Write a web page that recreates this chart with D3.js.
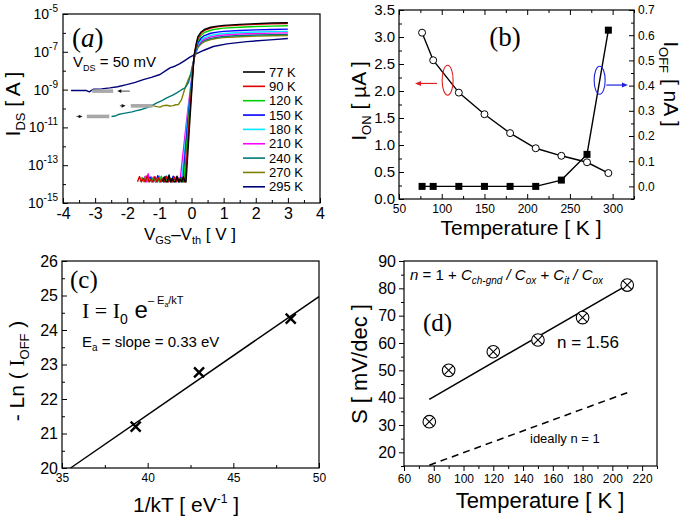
<!DOCTYPE html>
<html>
<head>
<meta charset="utf-8">
<script src="https://cdn.jsdelivr.net/npm/d3@7/dist/d3.min.js"></script>
<style>
html,body{margin:0;padding:0;background:#fff;}
svg{display:block;}
</style>
</head>
<body>
<svg id="chart" width="685" height="522"></svg>
<script>
// ================= DATA =================
// Panel (a): transfer curves, pairs of [V_GS - V_th (V), log10(I_DS / A)]
const vgsTicks = [-4,-3,-2,-1,0,1,2,3,4];
const vgsMinor = [-3.5,-2.5,-1.5,-0.5,0.5,1.5,2.5,3.5];
const idsTickExps = [-15,-13,-11,-9,-7,-5];
const idsMinorExps = [-14,-12,-10,-8,-6];
const tempLabelsA = ["77 K","90 K","120 K","150 K","180 K","210 K","240 K","270 K","295 K"];
const colorsA = ["#000000","#e00000","#00d000","#0000ff","#00e8ff","#ff00ff","#007878","#808000","#00007a"];

const ids77K = [[-0.9,-13.88],[-0.85,-13.62],[-0.8,-13.88],[-0.75,-13.86],[-0.7,-13.52],[-0.65,-13.88],[-0.6,-13.7],[-0.55,-13.88],[-0.5,-13.87],[-0.45,-13.58],[-0.4,-13.88],[-0.35,-13.74],[-0.3,-13.88],[-0.25,-13.62],[-0.2,-13.88],[-0.17,-13.88],[-0.05,-10.6],[0.08,-7.2],[0.15,-6.55],[0.2,-6.2],[0.3,-5.95],[0.4,-5.82],[0.6,-5.7],[0.8,-5.64],[1.0,-5.6],[1.5,-5.55],[2.0,-5.51],[2.5,-5.48],[3.0,-5.46]];
const ids90K = [[-1.68,-13.88],[-1.62,-13.6],[-1.56,-13.88],[-1.5,-13.7],[-1.44,-13.88],[-1.38,-13.55],[-1.32,-13.88],[-1.26,-13.75],[-1.2,-13.88],[-1.14,-13.6],[-1.08,-13.88],[-1.02,-13.66],[-0.96,-13.88],[-0.9,-13.72],[-0.84,-13.88],[-0.78,-13.6],[-0.72,-13.88],[-0.66,-13.7],[-0.6,-13.88],[-0.54,-13.62],[-0.48,-13.88],[-0.42,-13.7],[-0.36,-13.88],[-0.3,-13.65],[-0.24,-13.88],[-0.2,-13.88],[-0.07,-10.6],[0.08,-7.22],[0.15,-6.6],[0.2,-6.27],[0.3,-6.0],[0.4,-5.87],[0.6,-5.75],[0.8,-5.68],[1.0,-5.64],[1.5,-5.59],[2.0,-5.55],[2.5,-5.52],[3.0,-5.5]];
const ids120K = [[-1.6,-13.88],[-1.54,-13.65],[-1.48,-13.88],[-1.42,-13.58],[-1.36,-13.88],[-1.3,-13.72],[-1.24,-13.88],[-1.18,-13.62],[-1.12,-13.88],[-1.06,-13.7],[-1.0,-13.88],[-0.94,-13.58],[-0.88,-13.88],[-0.82,-13.68],[-0.76,-13.88],[-0.7,-13.62],[-0.64,-13.88],[-0.58,-13.74],[-0.52,-13.88],[-0.46,-13.6],[-0.4,-13.88],[-0.34,-13.7],[-0.28,-13.88],[-0.24,-13.88],[-0.09,-10.6],[0.08,-7.25],[0.15,-6.7],[0.2,-6.4],[0.3,-6.12],[0.4,-5.98],[0.6,-5.86],[0.8,-5.79],[1.0,-5.75],[1.5,-5.7],[2.0,-5.66],[2.5,-5.64],[3.0,-5.62]];
const ids150K = [[-1.35,-13.88],[-1.29,-13.62],[-1.23,-13.88],[-1.17,-13.7],[-1.11,-13.88],[-1.05,-13.55],[-0.99,-13.88],[-0.93,-13.68],[-0.87,-13.88],[-0.81,-13.6],[-0.75,-13.88],[-0.69,-13.72],[-0.63,-13.88],[-0.57,-13.58],[-0.51,-13.88],[-0.45,-13.7],[-0.39,-13.88],[-0.33,-13.64],[-0.27,-13.88],[-0.11,-10.6],[0.08,-7.28],[0.15,-6.8],[0.2,-6.52],[0.3,-6.27],[0.4,-6.14],[0.6,-6.02],[0.8,-5.96],[1.0,-5.92],[1.5,-5.87],[2.0,-5.84],[2.5,-5.82],[3.0,-5.8]];
const ids180K = [[-1.2,-13.88],[-1.14,-13.66],[-1.08,-13.88],[-1.02,-13.6],[-0.96,-13.88],[-0.9,-13.72],[-0.84,-13.88],[-0.78,-13.56],[-0.72,-13.88],[-0.66,-13.68],[-0.6,-13.88],[-0.54,-13.62],[-0.48,-13.88],[-0.42,-13.7],[-0.36,-13.88],[-0.31,-13.88],[-0.13,-10.6],[0.08,-7.3],[0.15,-6.85],[0.2,-6.6],[0.3,-6.37],[0.4,-6.25],[0.6,-6.13],[0.8,-6.07],[1.0,-6.03],[1.5,-5.98],[2.0,-5.95],[2.5,-5.93],[3.0,-5.92]];
const ids210K = [[-1.5,-13.88],[-1.45,-13.6],[-1.4,-13.88],[-1.35,-13.45],[-1.3,-13.88],[-1.24,-13.62],[-1.18,-13.88],[-1.12,-13.7],[-1.06,-13.88],[-1.0,-13.58],[-0.94,-13.88],[-0.88,-13.66],[-0.82,-13.88],[-0.76,-13.6],[-0.7,-13.88],[-0.64,-13.72],[-0.58,-13.88],[-0.52,-13.62],[-0.46,-13.88],[-0.4,-13.66],[-0.36,-13.88],[-0.15,-10.6],[0.08,-7.32],[0.15,-6.9],[0.2,-6.66],[0.3,-6.45],[0.4,-6.33],[0.6,-6.21],[0.8,-6.15],[1.0,-6.11],[1.5,-6.06],[2.0,-6.03],[2.5,-6.01],[3.0,-6.0]];
const ids240K = [[-2.49,-10.42],[-2.38,-10.4],[-2.28,-10.32],[-2.15,-10.27],[-2.02,-10.23],[-1.85,-10.18],[-1.71,-10.11],[-1.55,-10.05],[-1.4,-9.96],[-1.25,-9.86],[-1.08,-9.7],[-0.92,-9.58],[-0.77,-9.44],[-0.6,-9.3],[-0.46,-9.17],[-0.32,-9.02],[-0.2,-8.91],[-0.1,-8.65],[-0.03,-8.21],[0.08,-7.34],[0.15,-6.95],[0.2,-6.72],[0.3,-6.52],[0.4,-6.4],[0.6,-6.29],[0.8,-6.23],[1.0,-6.19],[1.5,-6.14],[2.0,-6.11],[2.5,-6.09],[3.0,-6.08]];
const ids270K = [[-1.19,-9.86],[-1.08,-9.9],[-0.98,-9.93],[-0.88,-9.85],[-0.77,-9.83],[-0.67,-9.87],[-0.57,-9.85],[-0.49,-9.8],[-0.41,-9.79],[-0.31,-9.53],[-0.2,-8.91],[-0.1,-8.47],[0.0,-8.1],[0.08,-7.36],[0.15,-7.0],[0.2,-6.78],[0.3,-6.58],[0.4,-6.46],[0.6,-6.35],[0.8,-6.29],[1.0,-6.25],[1.5,-6.2],[2.0,-6.17],[2.5,-6.15],[3.0,-6.14]];
const ids295K = [[-3.75,-9.05],[-3.5,-9.04],[-3.27,-9.05],[-3.18,-9.12],[-3.06,-8.98],[-2.8,-8.96],[-2.54,-8.91],[-2.3,-8.85],[-2.02,-8.74],[-1.75,-8.62],[-1.5,-8.47],[-1.25,-8.35],[-0.98,-8.2],[-0.8,-8.0],[-0.67,-7.85],[-0.5,-7.75],[-0.36,-7.63],[-0.2,-7.45],[-0.05,-7.28],[0.16,-7.1],[0.37,-6.93],[0.68,-6.72],[1.1,-6.58],[1.72,-6.46],[2.45,-6.37],[3.0,-6.3]];
const curvesA = [ids77K, ids90K, ids120K, ids150K, ids180K, ids210K, ids240K, ids270K, ids295K];

// grey off-current markers in (a): [V start, V end], log10(I)
const offBarsV = [[-3.09,-2.44],[-1.89,-1.21],[-3.26,-2.56]];
const offBarsLog = [-9.08,-9.86,-10.42];
const offArrowsV = [[-1.92,-2.31],[-2.23,-2.05],[-3.58,-3.39]];

// Panel (b)
const tempB = [77, 90, 120, 150, 180, 210, 240, 270, 295];
const ionB = [3.08, 2.57, 1.97, 1.57, 1.22, 0.94, 0.80, 0.68, 0.48];
const ioffB = [0, 0, 0, 0, 0, 0, 0.025, 0.127, 0.62];
const tempTicksB = [50,100,150,200,250,300];
const ionTicksB = [0,0.5,1,1.5,2,2.5,3,3.5];
const ioffTicksB = [0,0.1,0.2,0.3,0.4,0.5,0.6,0.7];

// Panel (c)
const invkT = [39.3, 43.0, 48.35];
const lnIoff = [21.2, 22.77, 24.33];
const fitInvkT = [35.5, 50];
const fitLnIoff = [20, 24.97];
const invkTTicks = [35,40,45,50];
const lnTicks = [20,21,22,23,24,25,26];

// Panel (d)
const tempD = [77, 90, 120, 150, 180, 210];
const swingD = [31.2, 50, 56.8, 61.1, 69.3, 81.2];
const fitTempD = [77, 210];
const fitSwingD = [39.4, 81.2];
const idealTempD = [77, 210];
const idealSwingD = [15.3, 41.8];
const tempTicksD = [60,80,100,120,140,160,180,200,220];
const swingTicksD = [20,30,40,50,60,70,80,90];

// ================= DRAWING =================
const SANS = "'Liberation Sans', Arial, Helvetica, sans-serif";
const SERIF = "'Liberation Serif', 'Times New Roman', serif";
const svg = d3.select("#chart");
svg.append("rect").attr("width",685).attr("height",522).attr("fill","#fff");

function axis(g, orient, scale, pos, values, size, fmt, fs, pad) {
  const gen = {bottom: d3.axisBottom, top: d3.axisTop, left: d3.axisLeft, right: d3.axisRight}[orient](scale)
    .tickValues(values).tickSizeInner(size).tickSizeOuter(0).tickPadding(pad || 4)
    .tickFormat(fmt ? fmt : () => "");
  const tr = (orient === "bottom" || orient === "top") ? `translate(0,${pos})` : `translate(${pos},0)`;
  const a = g.append("g").attr("transform", tr).call(gen);
  a.select(".domain").remove();
  a.selectAll("line").attr("stroke", "#000").attr("stroke-width", 1);
  a.selectAll("text").attr("font-size", fs || 12).attr("fill", "#000").attr("font-family", SANS);
  return a;
}
function frame(g, x0, y0, x1, y1) {
  g.append("rect").attr("x", x0).attr("y", y0).attr("width", x1 - x0).attr("height", y1 - y0)
    .attr("fill", "none").attr("stroke", "#000").attr("stroke-width", 1.2);
}
function rich(g, x, y, parts, opts) {
  const t = g.append("text").attr("x", x).attr("y", y).attr("fill", "#000")
    .attr("font-family", (opts && opts.family) || SANS).attr("font-size", (opts && opts.fs) || 16);
  if (opts && opts.anchor) t.attr("text-anchor", opts.anchor);
  if (opts && opts.transform) t.attr("transform", opts.transform);
  if (opts && opts.style) t.attr("font-style", opts.style);
  parts.forEach(p => {
    const s = t.append("tspan").text(p.t);
    if (p.dy) s.attr("dy", p.dy);
    if (p.fs) s.attr("font-size", p.fs);
    if (p.style) s.attr("font-style", p.style);
    if (p.family) s.attr("font-family", p.family);
  });
  return t;
}
const fmtPlain = d => String(d);
const fmt1 = d => d.toFixed(1);

// ---------------- Panel (a) ----------------
{
  const g = svg.append("g");
  const x = d3.scaleLinear().domain([-4, 4]).range([63, 320]);
  const y = d3.scaleLog().domain([1e-15, 1e-5]).range([203, 14]);
  const line = d3.line().x(d => x(d[0])).y(d => y(Math.pow(10, d[1])));

  for (let i = curvesA.length - 1; i >= 0; i--) {
    g.append("path").datum(curvesA[i]).attr("d", line).attr("fill", "none")
      .attr("stroke", colorsA[i]).attr("stroke-width", 1.4).attr("stroke-linejoin", "round");
  }
  // grey bars + arrows
  offBarsV.forEach((b, i) => {
    const yy = y(Math.pow(10, offBarsLog[i]));
    g.append("rect").attr("x", x(b[0])).attr("y", yy - 1.8).attr("width", x(b[1]) - x(b[0])).attr("height", 3.6)
      .attr("fill", "#a8a8a8");
    const a = offArrowsV[i];
    const x1 = x(a[0]), x2 = x(a[1]);
    const dir = Math.sign(x2 - x1);
    g.append("line").attr("x1", x1).attr("x2", x2 - dir * 3).attr("y1", yy).attr("y2", yy)
      .attr("stroke", "#333").attr("stroke-width", 0.9);
    g.append("path").attr("d", `M${x2},${yy} L${x2 - dir * 4},${yy - 1.8} L${x2 - dir * 4},${yy + 1.8} Z`).attr("fill", "#111");
  });

  frame(g, 63, 14, 320, 203);
  axis(g, "bottom", x, 203, vgsTicks, -5, fmtPlain, 16, 5);
  axis(g, "bottom", x, 203, vgsMinor, -3);
  const yMaj = idsTickExps.map(e => Math.pow(10, e));
  axis(g, "left", y, 63, yMaj, -5);
  axis(g, "left", y, 63, idsMinorExps.map(e => Math.pow(10, e)), -3);
  idsTickExps.forEach(e => {
    rich(g, 58, y(Math.pow(10, e)) + 5, [{t: "10"}, {t: String(e), dy: -7, fs: 10}], {fs: 14, anchor: "end"});
  });

  rich(g, 72, 47, [{t: "("}, {t: "a", style: "italic"}, {t: ")"}], {family: SERIF, fs: 27});
  rich(g, 73, 67, [{t: "V"}, {t: "DS", fs: 9, dy: 4}, {t: " = 50 mV", dy: -4}], {fs: 15});

  // legend
  tempLabelsA.forEach((lab, i) => {
    const ly = 72 + i * 14.35;
    g.append("line").attr("x1", 243).attr("x2", 265).attr("y1", ly).attr("y2", ly)
      .attr("stroke", colorsA[i]).attr("stroke-width", 1.6);
    g.append("text").attr("x", 269).attr("y", ly + 4.5).text(lab).attr("font-family", SANS)
      .attr("font-size", 13).attr("fill", "#000");
  });

  rich(g, 20, 104, [{t: "I"}, {t: "DS", fs: 13, dy: 5}, {t: " [ A ]", dy: -5}],
    {fs: 21, anchor: "middle", transform: "rotate(-90,20,104)"});
  rich(g, 190, 240, [{t: "V"}, {t: "GS", fs: 11, dy: 4}, {t: "–V", dy: -4}, {t: "th", fs: 11, dy: 4}, {t: "  [ V ]", dy: -4}],
    {fs: 17, anchor: "middle"});
}

// ---------------- Panel (b) ----------------
{
  const g = svg.append("g");
  const x = d3.scaleLinear().domain([50, 325]).range([399, 634]);
  const yL = d3.scaleLinear().domain([0, 3.5]).range([199, 10]);
  const yR = d3.scaleLinear().domain([-0.05, 0.7]).range([199, 10]);

  const lineOn = d3.line().x((d, i) => x(tempB[i])).y(d => yL(d));
  const lineOff = d3.line().x((d, i) => x(tempB[i])).y(d => yR(d));
  g.append("path").datum(ionB).attr("d", lineOn).attr("fill", "none").attr("stroke", "#000").attr("stroke-width", 1.4);
  g.append("path").datum(ioffB).attr("d", lineOff).attr("fill", "none").attr("stroke", "#000").attr("stroke-width", 1.4);
  g.selectAll(".cb").data(ionB).enter().append("circle")
    .attr("cx", (d, i) => x(tempB[i])).attr("cy", d => yL(d)).attr("r", 3.5)
    .attr("fill", "#fff").attr("stroke", "#000").attr("stroke-width", 1);
  g.selectAll(".sb").data(ioffB).enter().append("rect")
    .attr("x", (d, i) => x(tempB[i]) - 3.5).attr("y", d => yR(d) - 3.5).attr("width", 7).attr("height", 7)
    .attr("fill", "#000");

  // ellipses and arrows (annotation positions in data units)
  const redC = [106.9, 2.2], blueC = [284.8, 2.2];
  g.append("ellipse").attr("cx", x(redC[0])).attr("cy", yL(redC[1])).attr("rx", 5.5).attr("ry", 15)
    .attr("fill", "none").attr("stroke", "#e02020").attr("stroke-width", 1.1);
  g.append("ellipse").attr("cx", x(blueC[0])).attr("cy", yL(blueC[1])).attr("rx", 5.5).attr("ry", 14)
    .attr("fill", "none").attr("stroke", "#2020e0").attr("stroke-width", 1.1);
  const ra = [94.4, 68.7, 2.14], ba = [292.6, 317.9, 2.11];
  g.append("line").attr("x1", x(ra[0])).attr("x2", x(ra[1]) + 4).attr("y1", yL(ra[2])).attr("y2", yL(ra[2]))
    .attr("stroke", "#e02020").attr("stroke-width", 1.2);
  g.append("path").attr("d", `M${x(ra[1])},${yL(ra[2])} l6,-2.5 l0,5 Z`).attr("fill", "#e02020");
  g.append("line").attr("x1", x(ba[0])).attr("x2", x(ba[1]) - 4).attr("y1", yL(ba[2])).attr("y2", yL(ba[2]))
    .attr("stroke", "#2020e0").attr("stroke-width", 1.2);
  g.append("path").attr("d", `M${x(ba[1])},${yL(ba[2])} l-6,-2.5 l0,5 Z`).attr("fill", "#2020e0");

  frame(g, 399, 10, 634, 199);
  axis(g, "bottom", x, 199, tempTicksB, -5, fmtPlain, 12, 5);
  axis(g, "bottom", x, 199, [75,125,175,225,275,325], -3);
  axis(g, "top", x, 10, tempTicksB, -5);
  axis(g, "top", x, 10, [75,125,175,225,275,325], -3);
  axis(g, "left", yL, 399, ionTicksB, -5, fmt1, 15, 4);
  axis(g, "left", yL, 399, [0.25,0.75,1.25,1.75,2.25,2.75,3.25], -3);
  axis(g, "right", yR, 634, ioffTicksB, -5, fmt1, 12, 4);
  axis(g, "right", yR, 634, [-0.05,0.05,0.15,0.25,0.35,0.45,0.55,0.65], -3);

  rich(g, 505, 46, [{t: "(b)"}], {family: SERIF, fs: 27, anchor: "middle"});
  rich(g, 366, 101, [{t: "I"}, {t: "ON", fs: 13, dy: 5}, {t: " [ µA ]", dy: -5}],
    {fs: 21, anchor: "middle", transform: "rotate(-90,366,101)"});
  rich(g, 664, 84, [{t: "I"}, {t: "OFF", fs: 13, dy: 5}, {t: " [ nA ]", dy: -5}],
    {fs: 21, anchor: "middle", transform: "rotate(90,664,84)"});
  rich(g, 521, 235, [{t: "Temperature [ K ]"}], {fs: 21, anchor: "middle"});
}

// ---------------- Panel (c) ----------------
{
  const g = svg.append("g");
  const x = d3.scaleLinear().domain([35, 50]).range([62, 319]);
  const y = d3.scaleLinear().domain([20, 26]).range([468, 261]);
  g.append("path").datum(fitInvkT).attr("d", d3.line().x(d => x(d)).y((d, i) => y(fitLnIoff[i])))
    .attr("fill", "none").attr("stroke", "#000").attr("stroke-width", 1.5);
  invkT.forEach((v, i) => {
    const cx = x(v), cy = y(lnIoff[i]);
    g.append("path").attr("d", `M${cx - 5},${cy - 5}L${cx + 5},${cy + 5}M${cx - 5},${cy + 5}L${cx + 5},${cy - 5}`)
      .attr("stroke", "#000").attr("stroke-width", 2.4);
  });
  frame(g, 62, 261, 319, 468);
  axis(g, "bottom", x, 468, invkTTicks, -5, fmtPlain, 12, 5);
  axis(g, "bottom", x, 468, [37.5, 42.5, 47.5], -3);
  axis(g, "left", y, 62, lnTicks, -5, fmtPlain, 16, 4);
  axis(g, "left", y, 62, [20.5, 21.5, 22.5, 23.5, 24.5, 25.5], -3);

  rich(g, 70, 288, [{t: "(c)"}], {family: SERIF, fs: 25});
  rich(g, 82, 318, [{t: "I = I"}, {t: "0", fs: 14, dy: 6, family: SANS}, {t: " e", dy: -6, family: SANS, fs: 24},
    {t: "– E", fs: 11, dy: -14, family: SANS}, {t: "a", fs: 7, dy: 3, family: SANS}, {t: "/kT", fs: 11, dy: -3, family: SANS}],
    {family: SERIF, fs: 22});
  rich(g, 82, 347, [{t: "E"}, {t: "a", fs: 10, dy: 4}, {t: " = slope = 0.33 eV", dy: -4}], {fs: 15});
  rich(g, 24, 371, [{t: "- Ln ( "}, {t: "I", family: SERIF}, {t: "OFF", fs: 13, dy: 5}, {t: " )", dy: -5}],
    {fs: 21, anchor: "middle", transform: "rotate(-90,24,371)"});
  rich(g, 186, 512, [{t: "1/kT [ eV"}, {t: "-1", fs: 12, dy: -9}, {t: " ]", dy: 9}], {fs: 21, anchor: "middle"});
}

// ---------------- Panel (d) ----------------
{
  const g = svg.append("g");
  const x = d3.scaleLinear().domain([60, 230]).range([404, 657]);
  const y = d3.scaleLinear().domain([15, 90]).range([466, 261]);
  g.append("path").datum(fitTempD).attr("d", d3.line().x(d => x(d)).y((d, i) => y(fitSwingD[i])))
    .attr("fill", "none").attr("stroke", "#000").attr("stroke-width", 1.5);
  g.append("path").datum(idealTempD).attr("d", d3.line().x(d => x(d)).y((d, i) => y(idealSwingD[i])))
    .attr("fill", "none").attr("stroke", "#000").attr("stroke-width", 1.5).attr("stroke-dasharray", "7,5");
  tempD.forEach((t, i) => {
    const cx = x(t), cy = y(swingD[i]);
    g.append("circle").attr("cx", cx).attr("cy", cy).attr("r", 6.3).attr("fill", "#fff")
      .attr("stroke", "#000").attr("stroke-width", 1.1);
    g.append("path").attr("d", `M${cx - 4.4},${cy - 4.4}L${cx + 4.4},${cy + 4.4}M${cx - 4.4},${cy + 4.4}L${cx + 4.4},${cy - 4.4}`)
      .attr("stroke", "#000").attr("stroke-width", 1.1);
  });
  frame(g, 404, 261, 657, 466);
  axis(g, "bottom", x, 466, tempTicksD, 5, fmtPlain, 12, 3);
  axis(g, "bottom", x, 466, [70,90,110,130,150,170,190,210,230], 3);
  axis(g, "left", y, 404, swingTicksD, 5, fmtPlain, 16, 3);
  axis(g, "left", y, 404, [15,25,35,45,55,65,75,85], 3);

  rich(g, 410, 280, [{t: "n", style: "italic"}, {t: " =  1 + "}, {t: "C", style: "italic"},
    {t: "ch-gnd", fs: 10, dy: 4, style: "italic"}, {t: " / ", dy: -4, style: "italic"}, {t: "C", style: "italic"},
    {t: "ox", fs: 10, dy: 4, style: "italic"}, {t: " + ", dy: -4}, {t: "C", style: "italic"},
    {t: "it", fs: 10, dy: 4, style: "italic"}, {t: " / ", dy: -4, style: "italic"}, {t: "C", style: "italic"},
    {t: "ox", fs: 10, dy: 4, style: "italic"}], {fs: 15});
  rich(g, 423, 331, [{t: "(d)"}], {family: SERIF, fs: 25});
  rich(g, 557, 348, [{t: "n = 1.56"}], {fs: 17});
  rich(g, 530, 443, [{t: "ideally n = 1"}], {fs: 13});
  rich(g, 367, 364, [{t: "S [ mV/dec ]"}], {fs: 22, anchor: "middle", transform: "rotate(-90,367,364)"});
  rich(g, 540, 508, [{t: "Temperature [ K ]"}], {fs: 22, anchor: "middle"});
}
</script>
</body>
</html>
